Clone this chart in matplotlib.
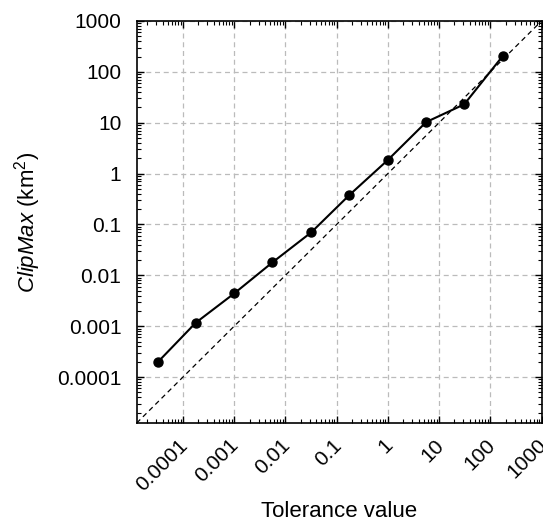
import matplotlib
matplotlib.use("Agg")
import matplotlib.pyplot as plt
import matplotlib.transforms as mtransforms
from matplotlib.ticker import LogLocator, FixedLocator, FixedFormatter, NullFormatter

plt.rcParams['font.family'] = ['Liberation Sans', 'DejaVu Sans']
plt.rcParams['mathtext.fontset'] = 'custom'
plt.rcParams['mathtext.rm'] = 'Liberation Sans'
plt.rcParams['mathtext.it'] = 'Liberation Sans:italic'

tolerance = [3.2e-5, 1.78e-4, 1.0e-3, 5.6e-3, 3.2e-2, 0.178, 1.0, 5.6, 31.0, 175.0]
clipmax = [1.95e-4, 1.17e-3, 4.4e-3, 0.018, 0.070, 0.38, 1.85, 10.3, 23.0, 205.0]

xticks = [1e-4, 1e-3, 1e-2, 1e-1, 1, 10, 100, 1000]
xticklabels = ["0.0001", "0.001", "0.01", "0.1", "1", "10", "100", "1000"]
yticks = [1e-4, 1e-3, 1e-2, 1e-1, 1, 10, 100, 1000]
yticklabels = ["0.0001", "0.001", "0.01", "0.1", "1", "10", "100", "1000"]
lim_lo, lim_hi = 1.25e-5, 1000

fig = plt.figure(figsize=(5.43, 5.25), dpi=100)
ax = fig.add_axes([136.7/543, 1 - 423/525, (541.5-136.7)/543, (423-21)/525])

ax.plot([lim_lo, lim_hi], [lim_lo, lim_hi], color='black', lw=0.9, ls=(0, (4, 3)), zorder=2)
ax.plot(tolerance, clipmax, color='black', lw=1.5, marker='o', markersize=6.5, zorder=3)

ax.set_xscale('log')
ax.set_yscale('log')
ax.set_xlim(lim_lo, lim_hi)
ax.set_ylim(lim_lo, lim_hi)

ax.xaxis.set_major_locator(FixedLocator(xticks))
ax.xaxis.set_major_formatter(FixedFormatter(xticklabels))
ax.yaxis.set_major_locator(FixedLocator(yticks))
ax.yaxis.set_major_formatter(FixedFormatter(yticklabels))
ax.xaxis.set_minor_locator(LogLocator(base=10, subs=range(2, 10), numticks=100))
ax.yaxis.set_minor_locator(LogLocator(base=10, subs=range(2, 10), numticks=100))
ax.xaxis.set_minor_formatter(NullFormatter())
ax.yaxis.set_minor_formatter(NullFormatter())

ax.tick_params(which='both', direction='in', top=True, right=True)
ax.tick_params(which='major', length=5, width=1, labelsize=15)
ax.tick_params(which='minor', length=2.8, width=0.8)
ax.tick_params(axis='y', which='major', pad=11)
ax.tick_params(axis='x', which='major', pad=9)
offset = mtransforms.ScaledTranslation(-5/100, 0, fig.dpi_scale_trans)
for lab in ax.get_xticklabels():
    lab.set_rotation(45)
    lab.set_ha('right')
    lab.set_va('top')
    lab.set_rotation_mode('anchor')
    lab.set_transform(lab.get_transform() + offset)

ax.grid(True, which='major', color='#bbbbbb', ls=(0, (4, 3)), lw=0.9)
ax.set_axisbelow(True)
for s in ax.spines.values():
    s.set_linewidth(1.2)

ax.set_xlabel('Tolerance value', fontsize=16)
ax.xaxis.set_label_coords(0.5, -0.194)
ax.set_ylabel(r'$\mathit{ClipMax}$ (km$^2$)', fontsize=16, labelpad=10)

fig.savefig('out.png', dpi=100)
